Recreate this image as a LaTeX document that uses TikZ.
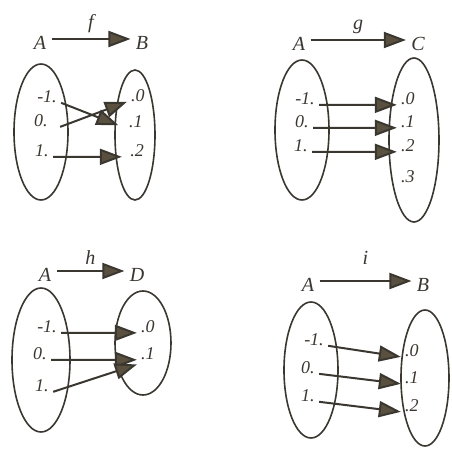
\documentclass[tikz,border=0pt]{standalone}
\usepackage{fontspec}
\setmainfont{Liberation Serif}
\usetikzlibrary{arrows.meta}
\definecolor{inkgray}{RGB}{58,54,48}
\definecolor{headbrown}{RGB}{90,80,64}

\begin{document}
\begin{tikzpicture}[x=0.5pt,y=-0.5pt,line join=round,
  setlbl/.style={font=\itshape\fontsize{10}{12}\selectfont,text=inkgray,inner sep=2.5pt},
  elt/.style={font=\itshape\fontsize{9}{11}\selectfont,text=inkgray,inner sep=2pt},
  maparrow/.style={draw=inkgray,line width=1pt,-{Triangle[length=11pt,width=8pt,fill=headbrown]}},
  setline/.style={draw=inkgray,line width=0.8pt}]
  \useasboundingbox (0,0) rectangle (452,449);

  % f : A -> B
  \node[setlbl] (fA) at (40,43) {A};
  \node[setlbl] (fB) at (142,43) {B};
  \draw[maparrow] ([yshift=2pt]fA.east) -- node[midway,above,setlbl] {f} ([yshift=2pt]fB.west);
  \draw[setline] (41,132) ellipse [x radius=27, y radius=68];
  \draw[setline] (135,135) ellipse [x radius=20, y radius=65];
  \node[elt] (fam) at (47,97) {-1.};
  \node[elt] (fa0) at (41,121) {0.};
  \node[elt] (fa1) at (42,151) {1.};
  \node[elt] (fb0) at (138,96) {.0};
  \node[elt] (fb1) at (136,122) {.1};
  \node[elt] (fb2) at (137,151) {.2};
  \draw[maparrow,shorten >=3.5pt] (fam.base east) -- (fb1.base west);
  \draw[maparrow] ([xshift=4pt]fa0.base east) -- (fb0.base west);
  \draw[maparrow,shorten >=2pt] (fa1.base east) -- (fb2.base west);

  % g : A -> C
  \node[setlbl] (gA) at (299,44) {A};
  \node[setlbl] (gC) at (418,44) {C};
  \draw[maparrow] ([yshift=2pt]gA.east) -- node[midway,above,setlbl] {g} ([yshift=2pt]gC.west);
  \draw[setline] (302,130) ellipse [x radius=27, y radius=70];
  \draw[setline] (414,140) ellipse [x radius=25, y radius=82];
  \node[elt] (gam) at (305,99) {-1.};
  \node[elt] (ga0) at (302,122) {0.};
  \node[elt] (ga1) at (301,146) {1.};
  \foreach \n/\y in {0/99,1/122,2/146,3/177}
    \node[elt] (gc\n) at (408,\y) {.\n};
  \draw[maparrow] (gam.base east) -- (gc0.base west);
  \draw[maparrow] (ga0.base east) -- (gc1.base west);
  \draw[maparrow] (ga1.base east) -- (gc2.base west);

  % h : A -> D
  \node[setlbl] (hA) at (45,275) {A};
  \node[setlbl] (hD) at (137,275) {D};
  \draw[maparrow] ([yshift=2pt]hA.east) -- node[midway,above,setlbl] {h} ([yshift=2pt]hD.west);
  \draw[setline] (41,360) ellipse [x radius=29, y radius=72];
  \draw[setline] (143,343) ellipse [x radius=28, y radius=52];
  \node[elt] (ham) at (47,327) {-1.};
  \node[elt] (ha0) at (40,354) {0.};
  \node[elt] (ha1) at (42,386) {1.};
  \node[elt] (hd0) at (148,327) {.0};
  \node[elt] (hd1) at (148,354) {.1};
  \draw[maparrow] (ham.base east) -- (hd0.base west);
  \draw[maparrow] (ha0.base east) -- (hd1.base west);
  \draw[maparrow] (ha1.base east) -- (hd1.south west);

  % i : A -> B
  \node[setlbl] (iA) at (308,285) {A};
  \node[setlbl] (iB) at (423,285) {B};
  \draw[maparrow] ([yshift=2pt]iA.east) -- node[midway,above=5pt,setlbl] {i} ([yshift=2pt]iB.west);
  \draw[setline] (311,370) ellipse [x radius=27, y radius=68];
  \draw[setline] (425,378) ellipse [x radius=24, y radius=68];
  \node[elt] (iam) at (314,340) {-1.};
  \node[elt] (ia0) at (308,368) {0.};
  \node[elt] (ia1) at (308,396) {1.};
  \foreach \n/\y in {0/351,1/378,2/406}
    \node[elt] (ib\n) at (412,\y) {.\n};
  \draw[maparrow] (iam.base east) -- (ib0.base west);
  \draw[maparrow] (ia0.base east) -- (ib1.base west);
  \draw[maparrow] (ia1.base east) -- (ib2.base west);
\end{tikzpicture}
\end{document}
